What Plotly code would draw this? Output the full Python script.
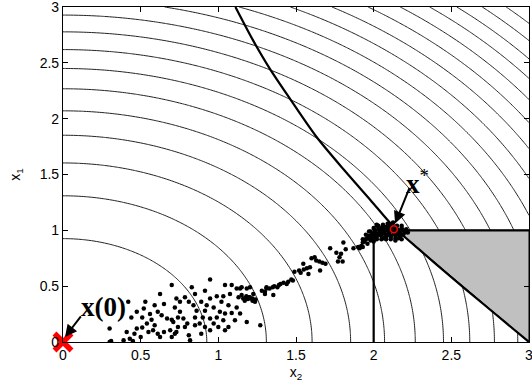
import numpy as np
import plotly.graph_objects as go

# ---------------- data ----------------
# contour field f(x1, x2) = x1^2 + x2^2 on [0,3]^2, 20 levels
grid = np.linspace(0, 3, 181)
level_step = 18 / 21
level_start = 18 / 21
level_end = 18.0

# thick constraint curve (x2, x1)
curve_x2 = [1.11, 1.22, 1.33, 1.465, 1.63, 1.81, 1.98, 2.13, 2.30, 2.50, 2.70, 2.85, 3.00]
curve_x1 = [3.00, 2.71, 2.45, 2.17, 1.84, 1.54, 1.27, 1.03, 0.82, 0.58, 0.347, 0.173, 0.00]

# feasible box edges
box_x2 = [2.0, 2.0, 3.0]
box_x1 = [0.0, 1.0, 1.0]

# shaded triangle
tri_x2 = [2.15, 3.0, 3.0, 2.15]
tri_x1 = [1.0, 1.0, 0.0, 1.0]

# sampled points (x2, x1)
pts_x2 = [
    0.70, 0.625, 0.42, 0.53, 0.59, 0.65, 0.52, 0.475, 0.61, 0.56, 0.635, 0.72, 0.51, 0.44, 0.57, 0.67,
    0.70, 0.74, 0.54, 0.59, 0.475, 0.51, 0.30, 0.41, 0.46, 0.55, 0.58, 0.61, 0.65, 0.69, 0.72, 0.50,
    0.43, 0.625, 0.31, 0.45, 0.70, 0.39, 0.30,
    0.947, 1.086, 1.043, 1.118, 1.14, 0.829, 0.914, 0.85, 0.99, 1.032, 1.075, 0.947,
    1.13, 1.16, 1.19, 1.21, 1.22, 1.17, 1.20, 0.73, 0.785, 0.753, 0.81, 0.89, 1.02, 1.065, 0.84,
    0.925, 0.97, 1.118, 0.86, 0.914, 1.01, 1.043, 1.086, 1.14, 0.753, 0.775, 0.85, 0.90, 0.947,
    0.99, 1.032, 1.107, 0.71, 0.80, 0.88, 0.97, 0.74, 0.785, 0.85, 0.914, 1.0, 1.065, 1.183,
    0.73, 0.81, 0.89, 0.947, 1.043, 0.818, 1.183, 1.15,
    1.30, 1.31, 1.27, 1.225, 1.204,
    1.15, 1.18, 1.20, 1.22, 1.24, 1.17, 1.236, 1.28, 1.30, 1.31,
    1.33, 1.36, 1.39, 1.42, 1.45, 1.48, 1.38, 1.44, 1.40, 1.35, 1.47, 1.354,
    1.49, 1.52, 1.55, 1.57, 1.53, 1.547, 1.58, 1.60, 1.63, 1.65, 1.62, 1.59, 1.67, 1.69, 1.655,
    1.72, 1.805, 1.76, 1.78, 1.80, 1.79, 1.82, 1.77, 1.87, 1.91, 1.93,
    1.92, 1.93, 1.95, 1.96, 1.97, 1.98, 1.99, 2.00, 2.01, 2.02, 2.03, 2.04, 2.05, 2.06, 2.07, 2.08,
    2.09, 2.10, 2.11, 2.12, 2.13, 2.14, 2.15, 2.16, 2.17, 2.18, 2.19, 2.20, 2.05, 2.10, 2.08, 2.14,
    2.03, 2.00, 1.95, 2.12, 2.06, 2.16, 2.22, 2.18, 2.02, 2.125, 1.90, 1.94,
    1.98, 2.01, 2.04, 2.07, 2.10, 2.13, 2.16, 2.19, 2.00, 2.05, 2.09, 2.15, 1.97, 2.02, 2.11, 2.17,
    1.94, 1.96, 1.99, 2.02, 2.05, 2.08, 2.11, 2.14, 2.17, 2.20, 1.97, 2.00, 2.03, 2.06, 2.09, 2.12,
    2.15, 2.18, 1.99, 2.02, 2.05, 2.08, 2.11, 2.14, 2.04, 2.07, 2.10, 2.13, 2.21, 1.93,
]
pts_x1 = [
    0.51, 0.43, 0.36, 0.36, 0.33, 0.34, 0.30, 0.27, 0.27, 0.25, 0.24, 0.31, 0.22, 0.22, 0.20, 0.21,
    0.20, 0.22, 0.165, 0.15, 0.12, 0.13, 0.12, 0.09, 0.075, 0.09, 0.105, 0.075, 0.09, 0.105, 0.075, 0.045,
    0.03, 0.045, 0.01, 0.01, 0.045, 0.015, 0.00,
    0.56, 0.51, 0.51, 0.48, 0.48, 0.49, 0.46, 0.43, 0.41, 0.41, 0.43, 0.39,
    0.40, 0.39, 0.385, 0.39, 0.37, 0.37, 0.40, 0.39, 0.40, 0.36, 0.36, 0.36, 0.36, 0.33, 0.33,
    0.33, 0.31, 0.31, 0.28, 0.28, 0.27, 0.255, 0.26, 0.255, 0.27, 0.21, 0.22, 0.22, 0.21,
    0.22, 0.195, 0.195, 0.18, 0.165, 0.165, 0.165, 0.135, 0.135, 0.15, 0.135, 0.135, 0.135, 0.18,
    0.09, 0.06, 0.075, 0.105, 0.105, 0.015, 0.48, 0.49,
    0.43, 0.49, 0.15, 0.43, 0.49,
    0.42, 0.41, 0.40, 0.39, 0.38, 0.39, 0.36, 0.46, 0.45, 0.48,
    0.48, 0.50, 0.51, 0.53, 0.54, 0.55, 0.49, 0.52, 0.52, 0.49, 0.56, 0.42,
    0.63, 0.64, 0.65, 0.66, 0.62, 0.70, 0.61, 0.75, 0.73, 0.72, 0.76, 0.67, 0.71, 0.70, 0.64,
    0.84, 0.89, 0.80, 0.76, 0.72, 0.79, 0.83, 0.72, 0.84, 0.84, 0.85,
    0.86, 0.89, 0.92, 0.88, 0.95, 0.91, 0.97, 0.94, 0.99, 0.92, 1.01, 0.96, 1.02, 0.93, 0.99, 1.03,
    0.96, 1.04, 0.92, 0.99, 1.03, 0.95, 1.01, 0.93, 0.98, 1.02, 0.96, 0.99, 0.97, 0.98, 0.94, 0.91,
    0.97, 0.90, 0.96, 1.05, 1.05, 0.97, 0.98, 0.92, 1.05, 1.07, 0.85, 0.90,
    0.99, 1.00, 1.00, 1.01, 1.01, 0.99, 0.99, 1.00, 0.96, 0.95, 0.96, 0.97, 0.93, 1.04, 0.95, 0.95,
    0.91, 0.93, 0.94, 0.96, 0.98, 1.00, 1.02, 1.02, 1.00, 0.98, 0.99, 1.02, 1.04, 1.04, 1.06, 1.06,
    1.04, 1.04, 0.93, 0.94, 0.92, 0.92, 0.94, 0.93, 1.00, 0.97, 1.01, 0.97, 1.01, 0.92,
]

# special points
start_x2, start_x1 = [0.0], [0.0]
opt_x2, opt_x1 = [2.13], [1.01]

tick_vals = [0, 0.5, 1, 1.5, 2, 2.5, 3]
tick_text = ["0", "0.5", "1", "1.5", "2", "2.5", "3"]

# ---------------- figure ----------------
Z = grid[None, :] ** 2 + grid[:, None] ** 2

fig = go.Figure()
fig.add_trace(go.Contour(
    x=grid, y=grid, z=Z,
    contours=dict(start=level_start, end=level_end, size=level_step,
                  coloring="none", showlabels=False),
    line=dict(color="#222222", width=1, smoothing=1),
    showscale=False, hoverinfo="skip",
))
fig.add_trace(go.Scatter(
    x=tri_x2, y=tri_x1, mode="lines", fill="toself",
    fillcolor="#c0c0c0", line=dict(color="black", width=1), hoverinfo="skip",
))
fig.add_trace(go.Scatter(
    x=box_x2, y=box_x1, mode="lines", line=dict(color="black", width=2.2),
))
fig.add_trace(go.Scatter(
    x=curve_x2, y=curve_x1, mode="lines",
    line=dict(color="black", width=2.2, shape="spline", smoothing=0.8),
))
fig.add_trace(go.Scatter(
    x=pts_x2, y=pts_x1, mode="markers",
    marker=dict(color="black", size=4.5, line=dict(width=0)),
))
fig.add_trace(go.Scatter(
    x=opt_x2, y=opt_x1, mode="markers",
    marker=dict(symbol="circle-open", color="red", size=7, line=dict(width=1.5, color="red")),
))
fig.add_trace(go.Scatter(
    x=start_x2, y=start_x1, mode="markers", cliponaxis=False,
    marker=dict(symbol="x-thin", size=17, line=dict(width=5.5, color="red"), color="red"),
))

serif = "Liberation Serif"
fig.add_annotation(x=0.013, y=0.045, ax=17, ay=-22, text="", showarrow=True,
                   arrowhead=2, arrowsize=1.2, arrowwidth=2, arrowcolor="black")
fig.add_annotation(x=0.26, y=0.31, text="<b>x(0)</b>", showarrow=False,
                   font=dict(family=serif, size=27, color="black"))
fig.add_annotation(x=2.138, y=1.062, ax=15, ay=-37, text="", showarrow=True,
                   arrowhead=2, arrowsize=1.2, arrowwidth=2, arrowcolor="black")
fig.add_annotation(x=2.285, y=1.43, text="<b>x</b><sup>*</sup>", showarrow=False,
                   font=dict(family=serif, size=27, color="black"))

axis_common = dict(
    range=[0, 3], tickvals=tick_vals, ticktext=tick_text,
    ticks="inside", ticklen=5, tickcolor="black", tickwidth=1,
    showline=True, linecolor="black", linewidth=1.2, mirror="ticks",
    showgrid=False, zeroline=False, automargin=False,
    ticklabeloverflow="allow",
    tickfont=dict(family="Liberation Sans", size=14, color="black"),
)
fig.update_xaxes(**axis_common, title=dict(text="x<sub>2</sub>", standoff=5,
                 font=dict(family="Liberation Sans", size=14, color="black")))
fig.update_yaxes(**axis_common, title=dict(text="x<sub>1</sub>", standoff=15,
                 font=dict(family="Liberation Sans", size=14, color="black")))

fig.update_layout(
    width=532, height=392,
    margin=dict(l=63, r=3, t=7, b=50),
    plot_bgcolor="white", paper_bgcolor="white",
    showlegend=False,
)

fig.write_html("out.html", config={"displayModeBar": False},
               post_script="document.body.style.margin='0';")
